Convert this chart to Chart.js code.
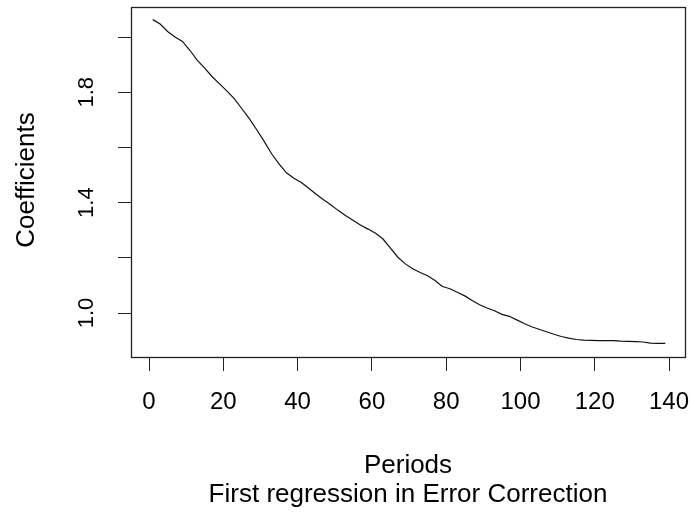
<!DOCTYPE html>
<html>
<head>
<meta charset="utf-8">
<script src="https://cdn.jsdelivr.net/npm/chart.js@4"></script>
<style>
  body { margin: 0; background: #fff; }
</style>
</head>
<body>
<canvas id="coefCanvas" width="691" height="516"></canvas>
<script>
const periods = [1, 3, 5, 7, 9, 11, 13, 15, 17, 19, 21, 23, 25, 27, 29, 31, 33, 35, 37, 39,
  41, 43, 45, 47, 49, 51, 53, 55, 57, 59, 61, 63, 65, 67, 69, 71, 73, 75, 77, 79,
  81, 83, 85, 87, 89, 91, 93, 95, 97, 99, 101, 103, 105, 107, 109, 111, 113, 115, 117, 119,
  121, 123, 125, 127, 129, 131, 133, 135, 137, 139];
const coefficients = [2.063, 2.047, 2.020, 2.000, 1.984, 1.952, 1.915, 1.887, 1.856, 1.830,
  1.804, 1.776, 1.740, 1.704, 1.664, 1.622, 1.577, 1.540, 1.508, 1.488,
  1.473, 1.452, 1.430, 1.410, 1.391, 1.371, 1.352, 1.335, 1.318, 1.304,
  1.289, 1.268, 1.235, 1.202, 1.178, 1.160, 1.147, 1.135, 1.118, 1.096,
  1.088, 1.075, 1.062, 1.045, 1.030, 1.018, 1.008, 0.995, 0.988, 0.975,
  0.962, 0.950, 0.941, 0.932, 0.923, 0.915, 0.909, 0.904, 0.902, 0.901,
  0.900, 0.900, 0.900, 0.898, 0.897, 0.896, 0.895, 0.891, 0.890, 0.890];
const xTicks = [0, 20, 40, 60, 80, 100, 120, 140];
const yTicks = [1.0, 1.2, 1.4, 1.6, 1.8, 2.0];
const yLabels = [1.0, 1.4, 1.8];
const xTitle = "Periods";
const subTitle = "First regression in Error Correction";
const yTitle = "Coefficients";

const FONT = '"Liberation Sans", Arial, sans-serif';

// box, rotated y labels and titles, R style
const rDecor = {
  id: "rDecor",
  afterDraw(chart) {
    const c = chart.ctx;
    const a = chart.chartArea;
    const y = chart.scales.y;
    c.save();
    c.strokeStyle = "#222";
    c.lineWidth = 1.3;
    c.strokeRect(Math.round(a.left) + 0.5, Math.round(a.top) + 0.5,
      Math.round(a.right - a.left), Math.round(a.bottom - a.top));

    c.fillStyle = "#000";
    c.font = "22px " + FONT;
    c.textAlign = "center";
    c.textBaseline = "middle";
    yLabels.forEach((v) => {
      c.save();
      c.translate(87, y.getPixelForValue(v));
      c.rotate(-Math.PI / 2);
      c.fillText(v.toFixed(1), 0, 0);
      c.restore();
    });

    c.font = "26px " + FONT;
    c.save();
    c.translate(27, 180);
    c.rotate(-Math.PI / 2);
    c.fillText(yTitle, 0, 0);
    c.restore();

    const mid = (a.left + a.right) / 2;
    c.fillText(xTitle, mid, 466);
    c.fillText(subTitle, mid, 495);
    c.restore();
  },
};

new Chart(document.querySelector("#coefCanvas"), {
  type: "line",
  data: {
    datasets: [
      {
        data: periods.map((p, i) => ({ x: p, y: coefficients[i] })),
        borderColor: "#111",
        borderWidth: 1.2,
        pointRadius: 0,
        tension: 0,
        fill: false,
      },
    ],
  },
  options: {
    responsive: false,
    animation: false,
    devicePixelRatio: 1,
    layout: { padding: { top: 7, right: 6, left: 0, bottom: 0 } },
    plugins: { legend: { display: false }, tooltip: { enabled: false } },
    scales: {
      x: {
        type: "linear",
        min: -4.85,
        max: 144.3,
        afterBuildTicks: (s) => { s.ticks = xTicks.map((v) => ({ value: v })); },
        afterFit: (s) => {
          s.height = 159;
          s.paddingLeft = 0;
          s.paddingRight = 0;
        },
        border: { display: false },
        grid: { drawOnChartArea: false, drawTicks: true, tickLength: 14, color: "#222" },
        ticks: {
          autoSkip: false,
          maxRotation: 0,
          padding: 17,
          color: "#000",
          font: { size: 24, family: FONT },
        },
      },
      y: {
        type: "linear",
        min: 0.8406,
        max: 2.1087,
        afterBuildTicks: (s) => { s.ticks = yTicks.map((v) => ({ value: v })); },
        afterFit: (s) => {
          s.width = 131;
          s.paddingTop = 0;
          s.paddingBottom = 0;
        },
        border: { display: false },
        grid: { drawOnChartArea: false, drawTicks: true, tickLength: 13, color: "#222" },
        ticks: { display: false },
      },
    },
  },
  plugins: [rDecor],
});
</script>
</body>
</html>
